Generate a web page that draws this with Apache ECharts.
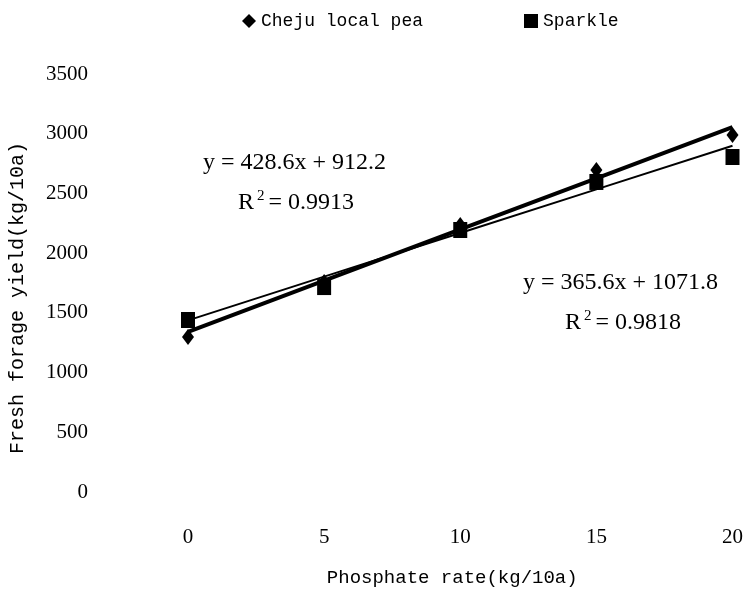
<!DOCTYPE html>
<html>
<head>
<meta charset="utf-8">
<script src="https://cdn.jsdelivr.net/npm/echarts@6/dist/echarts.min.js"></script>
<style>
  html, body { margin: 0; padding: 0; background: #fff; }
  #chart { width: 746px; height: 595px; }
</style>
</head>
<body>
<div id="chart"></div>
<script>
// phosphate rates (x categories)
var rates = ['0', '5', '10', '15', '20'];
// fresh forage yield, kg/10a
var chejuYield = [1298, 1758, 2236, 2696, 2989];
var sparkleYield = [1440, 1716, 2194, 2596, 2805];
// linear trendlines as printed on the chart (x = 1..5)
var chejuFit = [428.6, 912.2];
var sparkleFit = [365.6, 1071.8];

function trend(fit) {
  return rates.map(function (r, i) { return +(fit[0] * (i + 1) + fit[1]).toFixed(1); });
}

var serif = 'Liberation Serif';
var mono = 'Liberation Mono';
var chart = echarts.init(document.getElementById('chart'));

var r2Rich = {
  n: { fontFamily: serif, fontSize: 24, fill: '#000' },
  s: { fontFamily: serif, fontSize: 15, fill: '#000', verticalAlign: 'top', padding: [0, 4, 12, 3] }
};

chart.setOption({
  backgroundColor: '#fff',
  animation: false,
  legend: {
    top: 7,
    left: 237,
    itemGap: 101,
    itemWidth: 14,
    itemHeight: 14,
    textStyle: { fontFamily: mono, fontSize: 18, color: '#000' },
    data: [
      { name: 'Cheju local pea', icon: 'diamond', itemStyle: { color: '#000', opacity: 1 } },
      { name: 'Sparkle', icon: 'rect', itemStyle: { color: '#000', opacity: 1 } }
    ]
  },
  grid: { left: 188, right: 11, top: 74, bottom: 103 },
  xAxis: {
    type: 'category',
    data: rates,
    boundaryGap: false,
    name: 'Phosphate rate(kg/10a)',
    nameLocation: 'middle',
    nameGap: 76,
    nameTextStyle: { fontFamily: mono, fontSize: 19, color: '#000', padding: [0, 16, 0, 0] },
    axisLine: { show: false },
    axisTick: { show: false },
    axisLabel: { margin: 35, fontFamily: serif, fontSize: 21, color: '#000' },
    splitLine: { show: false }
  },
  yAxis: {
    type: 'value',
    min: 0,
    max: 3500,
    interval: 500,
    name: 'Fresh forage yield(kg/10a)',
    nameLocation: 'middle',
    nameGap: 160,
    nameTextStyle: { fontFamily: mono, fontSize: 20, color: '#000', padding: [0, 30, 0, 0] },
    axisLine: { show: false },
    axisTick: { show: false },
    axisLabel: {
      margin: 100, fontFamily: serif, fontSize: 21, color: '#000',
      formatter: function (v) { return String(v); }
    },
    splitLine: { show: false }
  },
  series: [
    {
      name: 'Cheju local pea',
      type: 'scatter',
      symbol: 'diamond',
      symbolSize: [12, 16],
      itemStyle: { color: '#000', opacity: 1 },
      data: chejuYield,
      z: 5
    },
    {
      name: 'Sparkle',
      type: 'scatter',
      symbol: 'rect',
      symbolSize: [14, 16],
      itemStyle: { color: '#000', opacity: 1 },
      data: sparkleYield,
      z: 5
    },
    {
      name: 'Cheju trend',
      type: 'line',
      data: trend(chejuFit),
      symbol: 'none',
      lineStyle: { color: '#000', width: 4 },
      z: 3
    },
    {
      name: 'Sparkle trend',
      type: 'line',
      data: trend(sparkleFit),
      symbol: 'none',
      lineStyle: { color: '#000', width: 2 },
      z: 3
    }
  ],
  graphic: [
    {
      type: 'text', left: 203, top: 151,
      style: { text: 'y = 428.6x + 912.2', font: '24px "Liberation Serif"', fill: '#000' }
    },
    {
      type: 'text', left: 238, top: 189,
      style: { text: '{n|R}{s|2}{n|= 0.9913}', rich: r2Rich }
    },
    {
      type: 'text', left: 523, top: 271,
      style: { text: 'y = 365.6x + 1071.8', font: '24px "Liberation Serif"', fill: '#000' }
    },
    {
      type: 'text', left: 565, top: 309,
      style: { text: '{n|R}{s|2}{n|= 0.9818}', rich: r2Rich }
    }
  ]
});
</script>
</body>
</html>
